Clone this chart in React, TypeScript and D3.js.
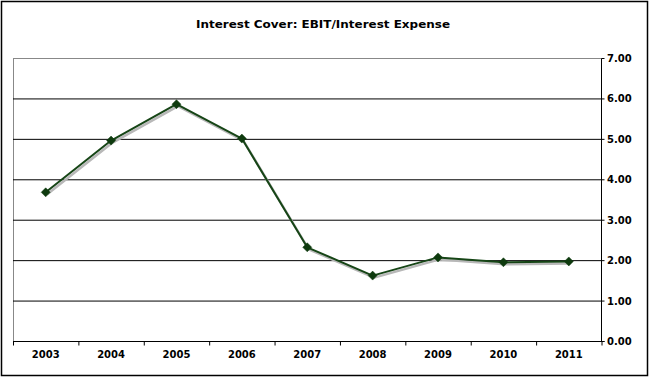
import React from "react";
import * as d3 from "d3";

const years = ["2003", "2004", "2005", "2006", "2007", "2008", "2009", "2010", "2011"];
const cover = [3.69, 4.97, 5.87, 5.02, 2.33, 1.63, 2.08, 1.96, 1.98];
const yTicks = [0, 1, 2, 3, 4, 5, 6, 7];

const W = 649;
const H = 377;
const left = 13;
const right = 601.5;
const top = 58.5;
const bottom = 341.5;

export default function App() {
  const x = d3.scaleBand<string>().domain(years).range([left, right]).padding(0);
  const y = d3.scaleLinear().domain([0, 7]).range([bottom, top]);
  const cx = (d: string) => (x(d) as number) + x.bandwidth() / 2;
  const pts: [number, number][] = years.map((d, i) => [cx(d), y(cover[i])]);
  const line = d3.line();
  const path = line(pts) as string;
  const shadow = line(pts.map(([a, b]) => [a + 1.5, b + 2])) as string;
  const font = "'DejaVu Sans', Verdana, sans-serif";
  const boundaries = years.map((d) => x(d) as number).concat([right]);

  return (
    <div style={{ position: "absolute", left: 0, top: 0 }}>
      <svg width={W} height={H} style={{ display: "block" }}>
        <rect x={0} y={0} width={W} height={H} fill="#fff" />
        <rect x={1.5} y={1.5} width={W - 3} height={H - 3} fill="none" stroke="#000" strokeWidth={1.5} />
        <text x={196} y={27.5} textLength={254} lengthAdjust="spacingAndGlyphs" fontFamily={font} fontWeight="bold" fontSize={11.3}>
          Interest Cover: EBIT/Interest Expense
        </text>
        {/* plot border: left and top in gray */}
        <line x1={left + 0.5} x2={left + 0.5} y1={top} y2={bottom} stroke="#888" strokeWidth={1} />
        <line x1={left} x2={right} y1={top} y2={top} stroke="#888" strokeWidth={1} />
        {yTicks.filter((t) => t > 0 && t < 7).map((t) => (
          <line key={t} x1={left} x2={right} y1={y(t)} y2={y(t)} stroke="#000" strokeWidth={1} />
        ))}
        {/* right axis */}
        <line x1={right} x2={right} y1={top} y2={bottom} stroke="#000" strokeWidth={1} />
        {yTicks.map((t) => (
          <g key={t}>
            <line x1={right} x2={right + 3} y1={y(t)} y2={y(t)} stroke="#000" strokeWidth={1} />
            <text x={607} y={y(t) + 3.5} fontFamily={font} fontWeight="bold" fontSize={10}>
              {t.toFixed(2)}
            </text>
          </g>
        ))}
        {/* bottom axis */}
        <line x1={left} x2={right + 3} y1={bottom} y2={bottom} stroke="#000" strokeWidth={1} />
        {boundaries.map((b, i) => (
          <line key={i} x1={b + 0.5} x2={b + 0.5} y1={bottom} y2={bottom + 4} stroke="#000" strokeWidth={1} />
        ))}
        {years.map((d) => (
          <text key={d} x={cx(d)} y={358} textAnchor="middle" fontFamily={font} fontWeight="bold" fontSize={10}>
            {d}
          </text>
        ))}
        {/* series */}
        <path d={shadow} fill="none" stroke="#b8b8b8" strokeWidth={2.5} strokeLinejoin="round" />
        <path d={path} fill="none" stroke="#164516" strokeWidth={2} strokeLinejoin="round" />
        {pts.map(([px, py], i) => (
          <path
            key={i}
            d={`M${px},${py - 4.5}L${px + 4.5},${py}L${px},${py + 4.5}L${px - 4.5},${py}Z`}
            fill="#0e3a0e"
            stroke="#0e3a0e"
            strokeWidth={0.5}
          />
        ))}
      </svg>
    </div>
  );
}
